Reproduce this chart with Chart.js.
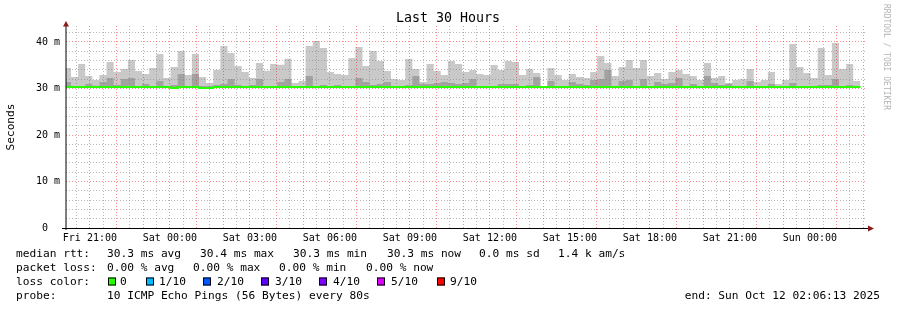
<!DOCTYPE html>
<html><head><meta charset="utf-8">
<script src="https://cdn.jsdelivr.net/npm/chart.js@4.4.1/dist/chart.umd.min.js"></script>
<style>html,body{margin:0;padding:0;background:#fff;}canvas{display:block;}</style>
</head><body>
<canvas id="c" width="897" height="310"></canvas>
<script>
// ---------- texts ----------
const chartTitle = "Last 30 Hours";
const yAxisTitle = "Seconds";
const watermark = "RRDTOOL / TOBI OETIKER";
const endText = "end: Sun Oct 12 02:06:13 2025";

// ---------- time grid (hours counted from Fri 00:00) ----------
const viewStartHour = 20.104;   // Fri 20:06:13
const viewEndHour = 50.104;     // Sun 02:06:13
const firstBarStartHour = 20.025;
const barStepHours = 16 / 60;   // one consolidated step = 16 min

const xTickHours = [21, 24, 27, 30, 33, 36, 39, 42, 45, 48];
const xTickLabels = ["Fri 21:00", "Sat 00:00", "Sat 03:00", "Sat 06:00", "Sat 09:00",
                     "Sat 12:00", "Sat 15:00", "Sat 18:00", "Sat 21:00", "Sun 00:00"];
const yTickValues = [0, 10, 20, 30, 40];
const yTickLabels = ["0  ", "10 m", "20 m", "30 m", "40 m"];

// ---------- series (ms) ----------
const smokeMax = [
 34.41,32.47,35.27,32.69,31.83,32.90,35.70,33.55,34.19,36.13,
 33.76,33.12,34.41,37.42,32.26,34.62,38.06,32.90,37.42,32.47,
 31.18,33.98,39.14,37.63,34.84,33.55,32.26,35.48,33.84,35.27,
 35.12,36.42,31.18,31.61,39.14,40.22,38.71,33.55,33.12,32.90,
 36.56,38.92,34.84,38.06,35.91,33.76,32.04,31.83,36.34,34.19,
 31.40,35.27,33.76,32.90,35.91,35.27,33.55,33.98,33.12,32.90,
 35.05,33.98,35.91,35.70,32.90,34.19,33.33,30.54,34.41,32.90,
 31.83,33.12,32.47,32.26,33.55,36.99,35.48,32.69,34.62,36.13,
 34.41,36.13,32.69,33.33,32.04,33.55,33.98,33.12,32.69,31.83,
 35.48,32.26,32.69,31.18,31.83,32.04,34.19,31.40,31.83,33.55,
 30.97,31.83,39.57,34.62,33.33,32.26,38.71,32.90,39.78,34.19,
 35.27,31.61];
const smokeInner = [
 31.40,30.47,30.47,30.97,30.61,31.40,32.26,30.75,32.04,32.26,
 30.54,30.97,30.54,31.61,30.54,30.75,33.12,30.54,33.12,30.54,
 30.54,30.75,30.97,32.04,30.75,30.54,30.75,32.04,30.54,30.54,
 31.40,32.04,30.54,30.54,32.69,30.54,30.75,30.54,30.75,30.54,
 30.54,32.26,31.40,30.75,30.97,31.40,30.54,30.54,30.75,32.69,
 30.97,30.97,31.18,31.40,31.18,30.97,31.18,32.04,30.54,30.54,
 30.54,30.97,30.97,30.97,30.54,30.75,32.47,30.54,31.61,30.54,
 30.54,31.40,30.97,30.75,31.83,32.04,33.98,30.54,31.61,31.83,
 30.54,32.04,30.54,31.40,30.97,31.18,32.26,30.54,30.97,30.54,
 32.69,31.18,30.75,30.97,30.54,30.54,31.61,30.54,30.54,30.97,
 30.54,30.54,31.18,30.54,30.54,30.54,30.75,30.75,32.04,30.54,
 30.75,30.54];
const medianRtt = [
 30.3,30.3,30.3,30.3,30.3,30.3,30.3,30.3,30.3,30.3,
 30.3,30.3,30.3,30.3,30.3,30.1,30.3,30.3,30.3,30.1,
 30.1,30.3,30.3,30.3,30.3,30.3,30.3,30.3,30.3,30.3,
 30.3,30.3,30.3,30.3,30.3,30.3,30.3,30.3,30.3,30.3,
 30.3,30.3,30.3,30.3,30.3,30.3,30.3,30.3,30.3,30.3,
 30.3,30.3,30.3,30.3,30.3,30.3,30.3,30.3,30.3,30.3,
 30.3,30.3,30.3,30.3,30.3,30.3,30.3,30.3,30.3,30.3,
 30.3,30.3,30.3,30.3,30.3,30.3,30.3,30.3,30.3,30.3,
 30.3,30.3,30.3,30.3,30.3,30.3,30.3,30.3,30.3,30.3,
 30.3,30.3,30.3,30.3,30.3,30.3,30.3,30.3,30.3,30.3,
 30.3,30.3,30.3,30.3,30.3,30.3,30.3,30.3,30.3,30.3,
 30.3,30.3];
const smokeFloor = 30.25;

// ---------- legend ----------
const rttLabel = "median rtt:";
const rttItems = ["30.3 ms avg", "30.4 ms max", "30.3 ms min", "30.3 ms now", "0.0 ms sd", "1.4 k am/s"];
const lossLabel = "packet loss:";
const lossItems = ["0.00 % avg", "0.00 % max", "0.00 % min", "0.00 % now"];
const lossColorLabel = "loss color:";
const lossColorNames = ["0", "1/10", "2/10", "3/10", "4/10", "5/10", "9/10"];
const lossColorValues = ["#26ff00", "#00b8ff", "#0059ff", "#5e00ff", "#7e00ff", "#dd00ff", "#ff0000"];
const probeLabel = "probe:";
const probeText = "10 ICMP Echo Pings (56 Bytes) every 80s";

// ---------- layout (pixels) ----------
const MONO = '"DejaVu Sans Mono"';
const rttX = [107, 200, 293, 387, 479, 558];
const lossX = [107, 193, 279, 366];
const boxX = [108, 146, 203, 261, 319, 377, 437];
const boxTextX = [120, 159, 217, 275, 333, 391, 450];
const rowY = [254, 268, 282, 296.5];

const barStarts = smokeMax.map((_, i) => firstBarStartHour + i * barStepHours);
const barEnd = firstBarStartHour + smokeMax.length * barStepHours;
function stepPoints(values) {
  const pts = values.map((v, i) => ({ x: barStarts[i], y: v }));
  pts.push({ x: barEnd, y: values[values.length - 1] });
  return pts;
}

const GRID_MINOR = 'rgba(128,128,128,0.55)';
const GRID_MAJOR = 'rgba(255,0,0,0.45)';

const decor = {
  id: 'decor',
  afterDraw(chart) {
    const { ctx, chartArea: a } = chart;
    // median line on top of the grid
    const meta = chart.getDatasetMeta(0);
    ctx.save();
    ctx.beginPath(); ctx.rect(a.left, a.top - 2, a.right - a.left, a.bottom - a.top + 4); ctx.clip();
    meta.dataset.draw(ctx, a);
    ctx.restore();

    ctx.save();
    // axes
    ctx.strokeStyle = '#000'; ctx.lineWidth = 1;
    ctx.beginPath(); ctx.moveTo(a.left - 4, a.bottom + 0.5); ctx.lineTo(a.right + 3, a.bottom + 0.5); ctx.stroke();
    ctx.beginPath(); ctx.moveTo(a.left, a.bottom + 2); ctx.lineTo(a.left, a.top - 2); ctx.stroke();
    // arrows
    ctx.fillStyle = '#8b1a1a';
    ctx.beginPath(); ctx.moveTo(a.left, a.top - 5); ctx.lineTo(a.left - 3, a.top + 0.5); ctx.lineTo(a.left + 3, a.top + 0.5); ctx.closePath(); ctx.fill();
    ctx.beginPath(); ctx.moveTo(a.right + 8, a.bottom + 0.5); ctx.lineTo(a.right + 2, a.bottom - 2.5); ctx.lineTo(a.right + 2, a.bottom + 3.5); ctx.closePath(); ctx.fill();

    // title
    ctx.fillStyle = '#000';
    ctx.textBaseline = 'middle';
    ctx.textAlign = 'center';
    ctx.font = '13.3px ' + MONO;
    ctx.fillText(chartTitle, 448, 19);

    // y axis title
    ctx.save();
    ctx.translate(11, 127); ctx.rotate(-Math.PI / 2);
    ctx.font = '11.2px ' + MONO; ctx.textAlign = 'center';
    ctx.fillText(yAxisTitle, 0, 0);
    ctx.restore();

    // watermark
    ctx.save();
    ctx.translate(886, 4); ctx.rotate(Math.PI / 2);
    ctx.font = '8px ' + MONO; ctx.textAlign = 'left'; ctx.fillStyle = '#b4b4b4';
    ctx.fillText(watermark, 0, 0);
    ctx.restore();

    // legend
    ctx.font = '11.2px ' + MONO; ctx.textAlign = 'left'; ctx.fillStyle = '#000';
    ctx.fillText(rttLabel, 16, rowY[0]);
    rttItems.forEach((t, i) => ctx.fillText(t, rttX[i], rowY[0]));
    ctx.fillText(lossLabel, 16, rowY[1]);
    lossItems.forEach((t, i) => ctx.fillText(t, lossX[i], rowY[1]));
    ctx.fillText(lossColorLabel, 16, rowY[2]);
    lossColorNames.forEach((t, i) => {
      ctx.fillStyle = lossColorValues[i];
      ctx.fillRect(boxX[i], rowY[2] - 4.5, 8, 8);
      ctx.strokeStyle = '#000'; ctx.lineWidth = 1;
      ctx.strokeRect(boxX[i] + 0.5, rowY[2] - 4.5 + 0.5, 7, 7);
      ctx.fillStyle = '#000';
      ctx.fillText(t, boxTextX[i], rowY[2]);
    });
    ctx.fillText(probeLabel, 16, rowY[3]);
    ctx.fillText(probeText, 107, rowY[3]);
    ctx.textAlign = 'right';
    ctx.fillText(endText, 880, rowY[3]);
    ctx.restore();
  }
};

Chart.defaults.font.family = MONO;
Chart.defaults.color = '#000';

new Chart(document.getElementById('c'), {
  type: 'line',
  data: {
    datasets: [
      { label: 'median rtt', data: stepPoints(medianRtt), stepped: true, borderColor: '#26ff00',
        borderWidth: 2, pointRadius: 0, fill: false, order: 0 },
      { label: 'smoke inner', data: stepPoints(smokeInner), stepped: true, borderColor: 'rgba(0,0,0,0)',
        borderWidth: 0, backgroundColor: '#a2a2a2', fill: { value: smokeFloor }, pointRadius: 0, order: 1 },
      { label: 'smoke outer', data: stepPoints(smokeMax), stepped: true, borderColor: 'rgba(0,0,0,0)',
        borderWidth: 0, backgroundColor: '#c9c9c9', fill: { value: smokeFloor }, pointRadius: 0, order: 2 }
    ]
  },
  options: {
    responsive: false,
    devicePixelRatio: 1,
    animation: false,
    events: [],
    layout: { padding: { left: 0, right: 31, top: 26, bottom: 0 } },
    plugins: { legend: { display: false }, tooltip: { enabled: false }, title: { display: false } },
    scales: {
      x: {
        type: 'linear', min: viewStartHour, max: viewEndHour,
        afterFit: s => { s.height = 82; },
        afterBuildTicks: s => {
          const t = [];
          for (let k = 0; 20.5 + k * 0.5 <= viewEndHour; k++) t.push({ value: 20.5 + k * 0.5 });
          s.ticks = t;
        },
        ticks: {
          autoSkip: false, maxRotation: 0, minRotation: 0, padding: 4,
          font: { size: 10, family: MONO }, color: '#000',
          callback: v => { const k = xTickHours.indexOf(Math.round(v * 2) / 2); return k >= 0 ? xTickLabels[k] : ''; }
        },
        grid: {
          z: 1, drawTicks: false, lineWidth: 1,
          color: c => (c.tick && Number.isInteger(c.tick.value)) ? GRID_MAJOR : GRID_MINOR
        },
        border: { display: false, dash: [1, 2] }
      },
      y: {
        type: 'linear', min: 0, max: 202 / 4.65,
        afterFit: s => { s.width = 66; },
        afterBuildTicks: s => {
          const t = [];
          for (let v = 0; v <= 42; v += 2) t.push({ value: v });
          s.ticks = t;
        },
        ticks: {
          autoSkip: false, padding: 6, font: { size: 10, family: MONO }, color: '#000',
          callback: v => { const k = yTickValues.indexOf(v); return k >= 0 ? yTickLabels[k] : ''; }
        },
        grid: {
          z: 1, drawTicks: false, lineWidth: 1,
          color: c => (c.tick && c.tick.value % 10 === 0) ? GRID_MAJOR : GRID_MINOR
        },
        border: { display: false, dash: [1, 2] }
      }
    }
  },
  plugins: [decor]
});
</script>
</body></html>
